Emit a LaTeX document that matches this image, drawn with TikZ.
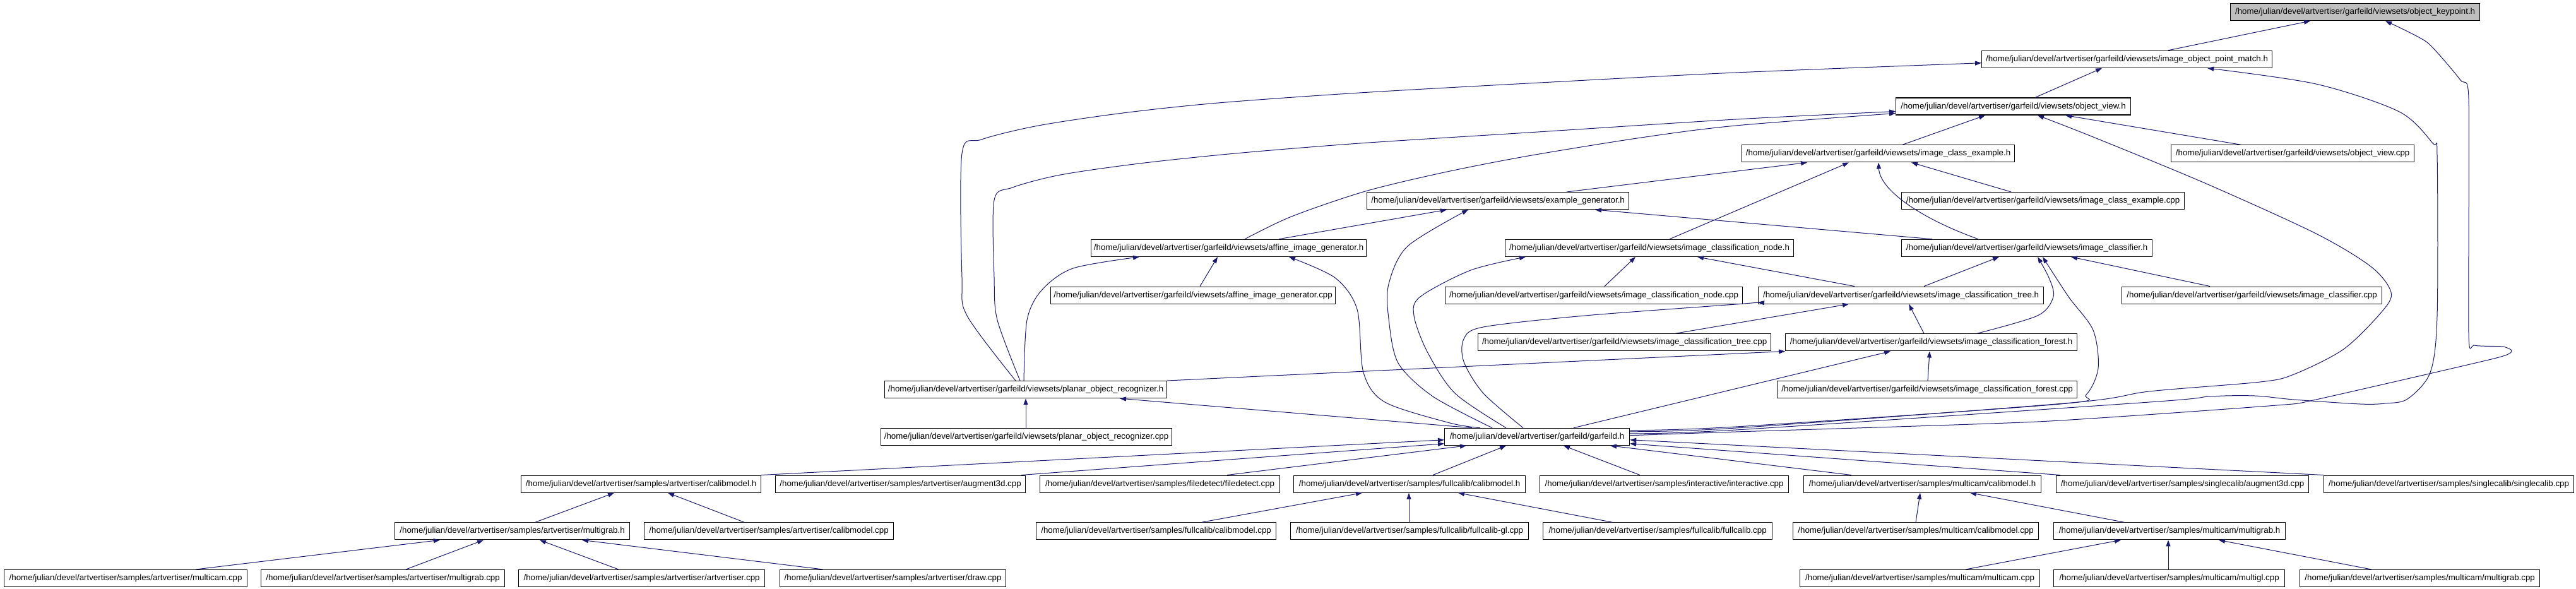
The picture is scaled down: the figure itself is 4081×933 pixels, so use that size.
\documentclass[tikz,border=0pt]{standalone}
\usepackage{fontspec}
\setmainfont{Liberation Sans}
\usetikzlibrary{arrows.meta}
\definecolor{edgecol}{HTML}{191970}
\definecolor{keyfill}{HTML}{BFBFBF}
\begin{document}
\begin{tikzpicture}[x=1pt,y=-1pt,
  file/.style={draw=black, line width=1.2pt, anchor=north west, minimum height=27pt,
    inner sep=0pt, font=\fontsize{13.33}{16}\selectfont, align=center},
  edge/.style={draw=edgecol, line width=1pt, -{Triangle[length=10pt,width=7pt]}},
]
\useasboundingbox[fill=white] (0,0) rectangle (4081,933);
% row 0-4
\node[file, fill=keyfill, minimum width=395pt] (kp) at (3533,5) {/home/julian/devel/artvertiser/garfeild/viewsets/object\_keypoint.h};
\node[file, minimum width=460pt] (iopm) at (3139,79.75) {/home/julian/devel/artvertiser/garfeild/viewsets/image\_object\_point\_match.h};
\node[file, minimum width=372pt] (ov) at (3003,154.5) {/home/julian/devel/artvertiser/garfeild/viewsets/object\_view.h};
\node[file, minimum width=432pt] (ice) at (2759,229.25) {/home/julian/devel/artvertiser/garfeild/viewsets/image\_class\_example.h};
\node[file, minimum width=385pt] (ovc) at (3439,229.25) {/home/julian/devel/artvertiser/garfeild/viewsets/object\_view.cpp};
\node[file, minimum width=415pt] (eg) at (2165,304) {/home/julian/devel/artvertiser/garfeild/viewsets/example\_generator.h};
\node[file, minimum width=448pt] (icec) at (3012,304) {/home/julian/devel/artvertiser/garfeild/viewsets/image\_class\_example.cpp};
% row 5
\node[file, minimum width=436pt] (aig) at (1728,378.75) {/home/julian/devel/artvertiser/garfeild/viewsets/affine\_image\_generator.h};
\node[file, minimum width=457pt] (icn) at (2384,378.75) {/home/julian/devel/artvertiser/garfeild/viewsets/image\_classification\_node.h};
\node[file, minimum width=397pt] (icl) at (3012,378.75) {/home/julian/devel/artvertiser/garfeild/viewsets/image\_classifier.h};
% row 6
\node[file, minimum width=451pt] (aigc) at (1664,453.5) {/home/julian/devel/artvertiser/garfeild/viewsets/affine\_image\_generator.cpp};
\node[file, minimum width=471pt] (icnc) at (2289,453.5) {/home/julian/devel/artvertiser/garfeild/viewsets/image\_classification\_node.cpp};
\node[file, minimum width=452pt] (tree) at (2785,453.5) {/home/julian/devel/artvertiser/garfeild/viewsets/image\_classification\_tree.h};
\node[file, minimum width=412pt] (iclc) at (3361,453.5) {/home/julian/devel/artvertiser/garfeild/viewsets/image\_classifier.cpp};
% row 7
\node[file, minimum width=464pt] (treec) at (2341,528.25) {/home/julian/devel/artvertiser/garfeild/viewsets/image\_classification\_tree.cpp};
\node[file, minimum width=462pt] (forest) at (2828,528.25) {/home/julian/devel/artvertiser/garfeild/viewsets/image\_classification\_forest.h};
% row 8
\node[file, minimum width=447pt] (por) at (1401,603) {/home/julian/devel/artvertiser/garfeild/viewsets/planar\_object\_recognizer.h};
\node[file, minimum width=475pt] (forestc) at (2815,603) {/home/julian/devel/artvertiser/garfeild/viewsets/image\_classification\_forest.cpp};
% row 9
\node[file, minimum width=461pt] (porc) at (1395,677.75) {/home/julian/devel/artvertiser/garfeild/viewsets/planar\_object\_recognizer.cpp};
\node[file, minimum width=293pt] (gar) at (2288,677.75) {/home/julian/devel/artvertiser/garfeild/garfeild.h};
% row 10
\node[file, minimum width=380pt] (acm) at (825,752.5) {/home/julian/devel/artvertiser/samples/artvertiser/calibmodel.h};
\node[file, minimum width=396pt] (aaug) at (1228,752.5) {/home/julian/devel/artvertiser/samples/artvertiser/augment3d.cpp};
\node[file, minimum width=380pt] (fd) at (1647,752.5) {/home/julian/devel/artvertiser/samples/filedetect/filedetect.cpp};
\node[file, minimum width=367pt] (fcm) at (2049,752.5) {/home/julian/devel/artvertiser/samples/fullcalib/calibmodel.h};
\node[file, minimum width=394pt] (inter) at (2439,752.5) {/home/julian/devel/artvertiser/samples/interactive/interactive.cpp};
\node[file, minimum width=376pt] (mcm) at (2857,752.5) {/home/julian/devel/artvertiser/samples/multicam/calibmodel.h};
\node[file, minimum width=400pt] (saug) at (3257,752.5) {/home/julian/devel/artvertiser/samples/singlecalib/augment3d.cpp};
\node[file, minimum width=396pt] (ssc) at (3681,752.5) {/home/julian/devel/artvertiser/samples/singlecalib/singlecalib.cpp};
% row 11
\node[file, minimum width=372pt] (amg) at (625,827.25) {/home/julian/devel/artvertiser/samples/artvertiser/multigrab.h};
\node[file, minimum width=395pt] (acmc) at (1020,827.25) {/home/julian/devel/artvertiser/samples/artvertiser/calibmodel.cpp};
\node[file, minimum width=380pt] (fcmc) at (1641,827.25) {/home/julian/devel/artvertiser/samples/fullcalib/calibmodel.cpp};
\node[file, minimum width=377pt] (fgl) at (2044,827.25) {/home/julian/devel/artvertiser/samples/fullcalib/fullcalib-gl.cpp};
\node[file, minimum width=363pt] (ffc) at (2444,827.25) {/home/julian/devel/artvertiser/samples/fullcalib/fullcalib.cpp};
\node[file, minimum width=389pt] (mcmc) at (2840,827.25) {/home/julian/devel/artvertiser/samples/multicam/calibmodel.cpp};
\node[file, minimum width=367pt] (mmg) at (3253,827.25) {/home/julian/devel/artvertiser/samples/multicam/multigrab.h};
% row 12
\node[file, minimum width=385pt] (amc) at (6,902) {/home/julian/devel/artvertiser/samples/artvertiser/multicam.cpp};
\node[file, minimum width=386pt] (amgc) at (413,902) {/home/julian/devel/artvertiser/samples/artvertiser/multigrab.cpp};
\node[file, minimum width=390pt] (aart) at (821,902) {/home/julian/devel/artvertiser/samples/artvertiser/artvertiser.cpp};
\node[file, minimum width=358pt] (adraw) at (1235,902) {/home/julian/devel/artvertiser/samples/artvertiser/draw.cpp};
\node[file, minimum width=380pt] (mmc) at (2851,902) {/home/julian/devel/artvertiser/samples/multicam/multicam.cpp};
\node[file, minimum width=366pt] (mgl) at (3253,902) {/home/julian/devel/artvertiser/samples/multicam/multigl.cpp};
\node[file, minimum width=380pt] (mmgc) at (3643,902) {/home/julian/devel/artvertiser/samples/multicam/multigrab.cpp};

% ---------- edges: upper part
\draw[edge] ([xshift=296pt]iopm.north west) -- ([xshift=127pt]kp.south west);
\draw[edge] ([xshift=221pt]ov.north west) -- ([xshift=191pt]iopm.south west);
\draw[edge] ([xshift=255pt]ice.north west) -- ([xshift=142pt]ov.south west);
\draw[edge] ([xshift=111pt]ovc.north west) -- ([xshift=269pt]ov.south west);
\draw[edge] ([xshift=174pt]icec.north west) -- ([xshift=269pt]ice.south west);
\draw[edge] ([xshift=317pt]eg.north west) -- ([xshift=104pt]ice.south west);
\draw[edge] ([xshift=261pt]icn.north west) -- ([xshift=170pt]ice.south west);
\draw[edge] ([xshift=122pt]icl.north west) .. controls (3040,345) and (2978,300) .. ([xshift=217pt]ice.south west);
\draw[edge] ([xshift=49pt]icl.north west) -- ([xshift=362pt]eg.south west);
\draw[edge] ([xshift=298pt]aig.north west) -- ([xshift=127pt]eg.south west);
\draw[edge] ([xshift=237pt]aigc.north west) -- ([xshift=201pt]aig.south west);
\draw[edge] ([xshift=253pt]icnc.north west) -- ([xshift=207pt]icn.south west);
\draw[edge] ([xshift=153pt]tree.north west) -- ([xshift=305pt]icn.south west);
\draw[edge] ([xshift=263pt]tree.north west) -- ([xshift=155pt]icl.south west);
\draw[edge] ([xshift=140pt]iclc.north west) -- ([xshift=269pt]icl.south west);
\draw[edge] ([xshift=313pt]treec.north west) -- ([xshift=144pt]tree.south west);
\draw[edge] ([xshift=220pt]forest.north west) -- ([xshift=239pt]tree.south west);
\draw[edge] ([xshift=239pt]forestc.north west) -- ([xshift=229pt]forest.south west);
\draw[edge] (por.north east) -- (forest.south west);
\draw[edge] ([xshift=230pt]porc.north west) -- ([xshift=224pt]por.south west);
\draw[edge] ([xshift=44pt]gar.north west) -- ([xshift=373pt]por.south west);
\draw[edge] ([xshift=205pt]gar.north west) -- ([xshift=167pt]forest.south west);
\draw[edge] plot[smooth] coordinates {([xshift=304pt]forest.north west) (3228,500) (3253,470) (3246,440) ([xshift=216pt]icl.south west)};
\draw[edge] plot[smooth] coordinates {([xshift=221pt]por.north west) (1627,507) (1650,460) (1700,425) ([xshift=77pt]aig.south west)};
\draw[edge] plot[smooth] coordinates {([xshift=57pt]gar.north west) (2297,670) (2194,637) (2160,590) (2150,490) (2115,440) ([xshift=314pt]aig.south west)};
\draw[edge] plot[smooth] coordinates {([xshift=76pt]gar.north west) (2270,628) (2215,575) (2200,505) (2200,450) (2230,390) ([xshift=161pt]eg.south west)};
\draw[edge] plot[smooth] coordinates {([xshift=98pt]gar.north west) (2305,623) (2261,557) (2240,500) (2250,470) (2330,428) ([xshift=33pt]icn.south west)};
\draw[edge] plot[smooth] coordinates {([xshift=125pt]gar.north west) (2350,623) (2319,573) (2319,537) (2350,518) (2511,500) (2750,482) ([yshift=3pt]tree.south west)};
\draw[edge] plot[smooth] coordinates {([xshift=208pt]por.north west) (1532,500) (1524,440) (1524,243) (1555,221) (1645,199) (1779,179) (1930,163) (2154,147) (2421,132) (2750,115) ([yshift=-20pt]iopm.north west)};
\draw[edge] plot[smooth] coordinates {([xshift=215pt]por.north west) (1580,507) (1575,440) (1575,317) (1604,297) (1680,277) (1805,259) (1957,243) (2154,227) (2421,210) (2750,189) ([yshift=-22pt]ov.north west)};
\draw[edge] plot[smooth] coordinates {([xshift=244pt]aig.north west) (2046,343) (2163,303) (2288,273) (2421,247) (2600,218) (2750,199) ([yshift=-25pt]ov.north west)};
\draw[edge] plot[smooth] coordinates {([yshift=-4pt]gar.north east) (2750,676) (3264,640) (3305,625) (3324,583) (3316,523) (3277,470) ([xshift=224pt]icl.south west)};
\draw[edge] plot[smooth] coordinates {([yshift=-6pt]gar.north east) (2750,678) (3281,638) (3405,620) (3581,605) (3634,593) (3713,553) (3774,493) (3788,463) (3757,423) (3669,370) (3493,290) (3316,217) ([xshift=225pt]ov.south west)};
\draw[edge] plot[smooth] coordinates {([yshift=-9pt]gar.north east) (2750,681) (3405,637) (3501,628) (3572,627) (3634,633) (3739,640) (3779,639) (3814,632) (3850,590) (3861,500) (3861,247) (3854,227) (3801,177) (3669,133) ([xshift=358pt]iopm.south west)};
\draw[edge] plot[smooth, tension=0.35] coordinates {([yshift=-12pt]gar.north east) (2750,684) (3228,668) (3607,642) (3669,633) (3951,568) (3979,556) (3965,549) (3920,547) (3911,530) (3911,157) (3898,127) (3845,67) ([xshift=246pt]kp.south west)};

% ---------- edges: lower part
\draw[edge] (acm.north east) -- ([yshift=-19pt]gar.north west);
\draw[edge] ([xshift=390pt]aaug.north west) -- ([yshift=-25pt]gar.north west);
\draw[edge] ([xshift=297pt]fd.north west) -- ([xshift=35pt]gar.south west);
\draw[edge] ([xshift=221pt]fcm.north west) -- ([xshift=98pt]gar.south west);
\draw[edge] ([xshift=159pt]inter.north west) -- ([xshift=189pt]gar.south west);
\draw[edge] ([xshift=76pt]mcm.north west) -- ([xshift=263pt]gar.south west);
\draw[edge] ([xshift=7pt]saug.north west) -- ([yshift=-25pt]gar.north east);
\draw[edge] (ssc.north west) -- ([yshift=-19pt]gar.north east);
\draw[edge] ([xshift=223pt]amg.north west) -- ([xshift=148pt]acm.south west);
\draw[edge] ([xshift=159pt]acmc.north west) -- ([xshift=233pt]acm.south west);
\draw[edge] ([xshift=304pt]amc.north west) -- ([xshift=72pt]amg.south west);
\draw[edge] ([xshift=230pt]amgc.north west) -- ([xshift=141pt]amg.south west);
\draw[edge] ([xshift=159pt]aart.north west) -- ([xshift=230pt]amg.south west);
\draw[edge] ([xshift=69pt]adraw.north west) -- ([xshift=297pt]amg.south west);
\draw[edge] ([xshift=263pt]fcmc.north west) -- ([xshift=109pt]fcm.south west);
\draw[edge] ([xshift=188pt]fgl.north west) -- ([xshift=183pt]fcm.south west);
\draw[edge] ([xshift=110pt]ffc.north west) -- ([xshift=261pt]fcm.south west);
\draw[edge] ([xshift=195pt]mcmc.north west) -- ([xshift=185pt]mcm.south west);
\draw[edge] ([xshift=112pt]mmg.north west) -- ([xshift=264pt]mcm.south west);
\draw[edge] ([xshift=263pt]mmc.north west) -- ([xshift=107pt]mmg.south west);
\draw[edge] ([xshift=182pt]mgl.north west) -- ([xshift=182pt]mmg.south west);
\draw[edge] ([xshift=114pt]mmgc.north west) -- ([xshift=262pt]mmg.south west);
\end{tikzpicture}
\end{document}
